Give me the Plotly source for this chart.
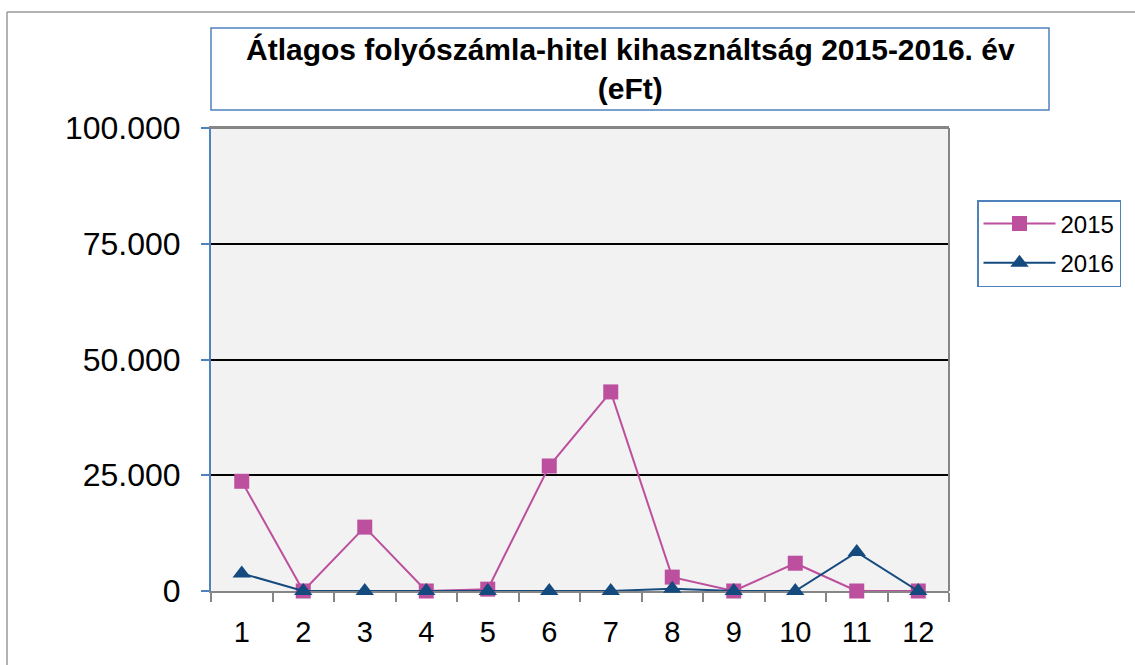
import plotly.graph_objects as go

months = ["1", "2", "3", "4", "5", "6", "7", "8", "9", "10", "11", "12"]
s2015 = [23700, 0, 13800, 0, 400, 27000, 43000, 3000, 0, 6000, 0, 0]
s2016 = [3800, 0, 0, 0, 0, 0, 0, 500, 0, 0, 8400, 0]
y_ticks = [0, 25000, 50000, 75000, 100000]
title_text = "Átlagos folyószámla-hitel kihasználtság 2015-2016. év<br>(eFt)"

FONT = "Liberation Sans, Arial, sans-serif"
PINK = "#BC4F9E"
NAVY = "#154A7E"
BLUE = "#4F81BD"
GRAY = "#868686"

W, H = 1135, 665
L, R, T, B = 211, 949, 128, 591
pw, ph = R - L, B - T

def px(x):
    return (x - L) / pw

def py(y):
    return (B - y) / ph

fig = go.Figure()
fig.add_trace(go.Scatter(
    x=months, y=s2015, name="2015", mode="lines+markers", legendgroup="a",
    line=dict(color=PINK, width=2),
    marker=dict(symbol="square", size=15, color=PINK),
    cliponaxis=False,
))
fig.add_trace(go.Scatter(
    x=months, y=s2016, name="2016", mode="lines+markers", legendgroup="b",
    line=dict(color=NAVY, width=2),
    marker=dict(symbol="triangle-up", size=16, color=NAVY),
    cliponaxis=False,
))

fig.update_layout(
    width=W, height=H,
    margin=dict(l=L, r=W - R, t=T, b=H - B, pad=0),
    paper_bgcolor="white",
    plot_bgcolor="#F2F2F2",
    separators=",.",
    font=dict(family=FONT, size=24, color="black"),
    showlegend=True,
    legend=dict(
        x=px(977), xanchor="left", y=py(200), yanchor="top",
        bordercolor=BLUE, borderwidth=1.5, bgcolor="white",
        font=dict(family=FONT, size=24, color="black"),
        itemwidth=72, tracegroupgap=5,
    ),
    xaxis=dict(
        type="category", range=[-0.5, 11.5],
        showline=True, linecolor=GRAY, linewidth=2, mirror=True,
        ticks="outside", tickson="boundaries", ticklen=9, tickcolor=GRAY, tickwidth=2,
        showgrid=False, zeroline=False,
        tickfont=dict(family=FONT, size=29, color="black"),
        ticklabelstandoff=14,
        layer="below traces",
        fixedrange=True,
    ),
    yaxis=dict(
        range=[0, 100000], tickvals=y_ticks, tickformat=",d",
        showline=True, linecolor=BLUE, linewidth=2, mirror=False,
        ticks="outside", ticklen=8, tickcolor=BLUE, tickwidth=2,
        showgrid=True, gridcolor="black", gridwidth=1.5, zeroline=False,
        tickfont=dict(family=FONT, size=32, color="black"),
        ticklabelstandoff=14,
        layer="below traces",
        fixedrange=True,
    ),
)

shapes = [
    dict(type="line", xref="paper", yref="paper", x0=1, x1=1, y0=0, y1=1,
         line=dict(color=GRAY, width=2), layer="above"),
    dict(type="line", xref="paper", yref="paper", x0=0, x1=1, y0=1, y1=1,
         line=dict(color=GRAY, width=2), layer="above"),
    dict(type="rect", xref="paper", yref="paper",
         x0=px(211), x1=px(1049), y0=py(110), y1=py(28),
         line=dict(color=BLUE, width=1.5), fillcolor="white"),
    dict(type="line", xref="paper", yref="paper",
         x0=px(7), x1=px(1140), y0=py(12), y1=py(12),
         line=dict(color="#9A9A9A", width=1.5)),
    dict(type="line", xref="paper", yref="paper",
         x0=px(7), x1=px(7), y0=py(12), y1=py(670),
         line=dict(color="#9A9A9A", width=1.5)),
]
fig.update_layout(shapes=shapes)

fig.add_annotation(
    xref="paper", yref="paper", x=px(630), y=py(69),
    xanchor="center", yanchor="middle", showarrow=False,
    text="<b>" + title_text + "</b>",
    font=dict(family=FONT, size=30, color="black"),
    align="center",
)

fig.write_html(
    "out.html",
    config={"displayModeBar": False},
    post_script="document.body.style.margin='0';document.body.style.overflow='hidden';",
)
